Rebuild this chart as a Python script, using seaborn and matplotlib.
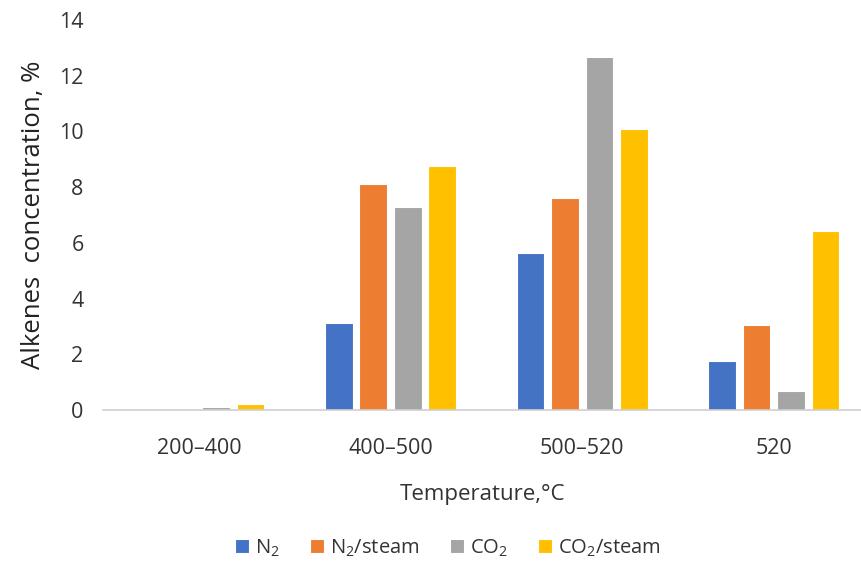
import pandas as pd
import seaborn as sns
import matplotlib.pyplot as plt

# values
temps = ['200–400', '400–500', '500–520', '520']
n2 = [0.0, 3.12, 5.64, 1.76]
n2_steam = [0.0, 8.11, 7.61, 3.05]
co2 = [0.1, 7.29, 12.67, 0.68]
co2_steam = [0.2, 8.76, 10.09, 6.42]
series = [r'N$_2$', r'N$_2$/steam', r'CO$_2$', r'CO$_2$/steam']
colors = ['#4472C4', '#ED7D31', '#A5A5A5', '#FFC000']

rows = []
for name, vals in zip(series, [n2, n2_steam, co2, co2_steam]):
    for t, v in zip(temps, vals):
        rows.append({'Temperature': t, 'Gas': name, 'Value': v})
df = pd.DataFrame(rows)

sns.set_style('white')
plt.rcParams['font.family'] = ['Open Sans', 'DejaVu Sans']
plt.rcParams['mathtext.fontset'] = 'custom'
plt.rcParams['mathtext.rm'] = 'Open Sans'

fig = plt.figure(figsize=(8.62, 5.63), dpi=100)
ax = fig.add_axes([103 / 862, (563 - 410) / 563, (862 - 103) / 862, 390 / 563])

sns.barplot(data=df, x='Temperature', y='Value', hue='Gas', order=temps,
            hue_order=series, palette=colors, saturation=1, width=0.72, gap=0.2,
            edgecolor='white', linewidth=0.8, ax=ax, legend=True)

ax.set_xlim(-0.5, 3.46)
ax.set_ylim(0, 14)
ax.set_yticks(range(0, 15, 2))
ax.tick_params(axis='both', length=0, labelsize=15.5, colors='#333333')
ax.tick_params(axis='x', pad=20)
ax.tick_params(axis='y', pad=14)
for s in ['top', 'right', 'left']:
    ax.spines[s].set_visible(False)
ax.spines['bottom'].set_color('#d0d0d0')
ax.spines['bottom'].set_linewidth(1.2)

ax.set_xlabel('Temperature,°C', fontsize=16, color='#333333', labelpad=18)
ax.set_ylabel('Alkenes  concentration, %', fontsize=18.5, color='#222222', labelpad=9)

handles, labels = ax.get_legend_handles_labels()
ax.get_legend().remove()
fig.legend(handles, labels, loc='center', bbox_to_anchor=(448 / 862, 1 - 548 / 563),
           ncol=4, frameon=False, fontsize=14.5, handlelength=0.7, handleheight=0.7,
           handletextpad=0.3, columnspacing=1.5, labelcolor='#333333')

fig.savefig('out.png', dpi=100)
